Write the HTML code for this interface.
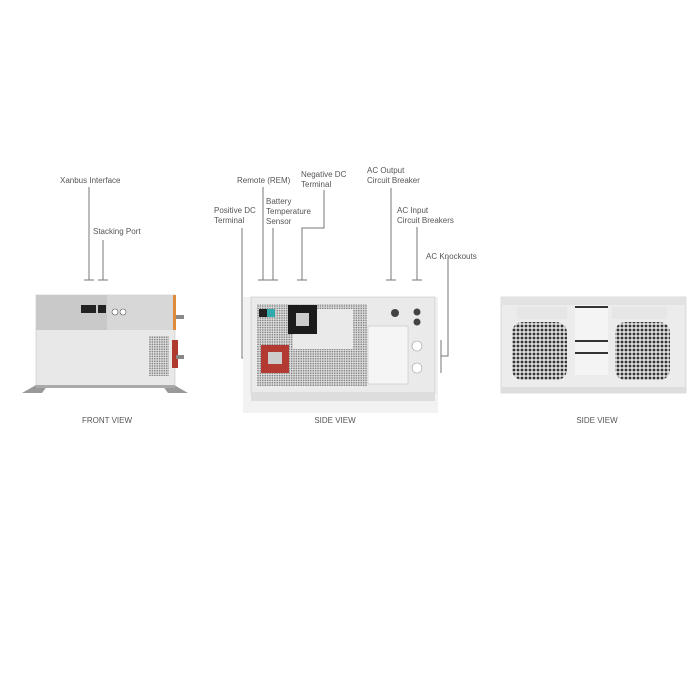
<!DOCTYPE html>
<html><head><meta charset="utf-8"><style>
html,body{margin:0;padding:0;background:#fff;}
svg{display:block;font-family:"Liberation Sans",sans-serif;}
text{font-size:8px;fill:#555;}
</style></head><body>
<svg width="700" height="700" viewBox="0 0 700 700">
<defs>
<pattern id="mesh" width="2.4" height="2.4" patternUnits="userSpaceOnUse"><rect width="2.4" height="2.4" fill="#e0e0e0"/><circle cx="1.2" cy="1.2" r="0.8" fill="#7d7d7d"/></pattern>
<pattern id="hex" width="4" height="4" patternUnits="userSpaceOnUse"><rect width="4" height="4" fill="#ddd"/><circle cx="2" cy="2" r="1.4" fill="#333"/></pattern>
</defs>
<g stroke="#777" stroke-width="1" fill="none">
<path d="M89 187V280M84 280H94"/>
<path d="M103 240V280M98 280H108"/>
<path d="M263 187V280M258 280H268"/>
<path d="M273 228V280M268 280H278"/>
<path d="M324 190V228H302V280M297 280H307"/>
<path d="M391 188V280M386 280H396"/>
<path d="M417 227V280M412 280H422"/>
<path d="M242 228V358H247M247 352V363"/>
<path d="M448 257V356H441M441 340V373"/>
</g>
<text x="60" y="183">Xanbus Interface</text>
<text x="93" y="234">Stacking Port</text>
<text x="237" y="183">Remote (REM)</text>
<text x="266" y="204">Battery</text>
<text x="266" y="214">Temperature</text>
<text x="266" y="224">Sensor</text>
<text x="214" y="213">Positive DC</text>
<text x="214" y="223">Terminal</text>
<text x="301" y="177">Negative DC</text>
<text x="301" y="187">Terminal</text>
<text x="367" y="173">AC Output</text>
<text x="367" y="183">Circuit Breaker</text>
<text x="397" y="213">AC Input</text>
<text x="397" y="223">Circuit Breakers</text>
<text x="426" y="259">AC Knockouts</text>
<text x="107" y="423" text-anchor="middle">FRONT VIEW</text>
<text x="335" y="423" text-anchor="middle">SIDE VIEW</text>
<text x="597" y="423" text-anchor="middle">SIDE VIEW</text>

<!-- front unit -->
<rect x="36" y="295" width="139" height="92" fill="#e8e8e8" stroke="#bbb" stroke-width="0.5"/>
<rect x="36" y="295" width="71" height="35" fill="#c9c9c9"/>
<rect x="107" y="295" width="68" height="35" fill="#d7d7d7"/>
<rect x="173" y="295" width="3" height="35" fill="#e08a3c"/>
<rect x="81" y="305" width="15" height="8" fill="#222"/>
<rect x="98" y="305" width="8" height="8" fill="#222"/>
<circle cx="115" cy="312" r="3" fill="#fff" stroke="#555" stroke-width="0.6"/>
<circle cx="123" cy="312" r="3" fill="#fff" stroke="#555" stroke-width="0.6"/>
<rect x="149" y="336" width="20" height="40" fill="url(#mesh)"/>
<rect x="172" y="340" width="6" height="28" fill="#b03a2e"/>
<rect x="176" y="315" width="8" height="4" fill="#888"/>
<rect x="176" y="355" width="8" height="4" fill="#888"/>
<path d="M22 393L36 385H48L42 393Z M188 393L174 385H162L168 393Z" fill="#999"/>
<rect x="36" y="385" width="139" height="3" fill="#aaa"/>

<!-- side unit -->
<rect x="243" y="297" width="195" height="116" fill="#f2f2f2"/>
<rect x="251" y="297" width="184" height="96" fill="#eaeaea" stroke="#bbb" stroke-width="0.5"/>
<rect x="257" y="304" width="110" height="82" fill="url(#mesh)"/>
<rect x="293" y="309" width="60" height="40" fill="#eaeaea"/>
<rect x="368" y="326" width="40" height="58" fill="#f5f5f5" stroke="#bbb" stroke-width="0.5"/>
<rect x="259" y="309" width="8" height="8" fill="#222"/>
<rect x="267" y="309" width="8" height="8" fill="#3aa"/>
<rect x="288" y="305" width="29" height="29" fill="#1c1c1c"/>
<rect x="296" y="313" width="13" height="13" fill="#ccc"/>
<rect x="261" y="345" width="28" height="28" fill="#b33a33"/>
<rect x="268" y="352" width="14" height="12" fill="#ccc"/>
<circle cx="395" cy="313" r="4" fill="#444"/>
<circle cx="417" cy="312" r="3.5" fill="#444"/>
<circle cx="417" cy="322" r="3.5" fill="#444"/>
<circle cx="417" cy="346" r="5" fill="#fff" stroke="#999" stroke-width="0.6"/>
<circle cx="417" cy="368" r="5" fill="#fff" stroke="#999" stroke-width="0.6"/>
<rect x="251" y="393" width="184" height="8" fill="#ddd"/>

<!-- back unit -->
<rect x="501" y="297" width="185" height="96" fill="#ececec" stroke="#bbb" stroke-width="0.5"/>
<rect x="501" y="297" width="185" height="8" fill="#e2e2e2"/>
<path d="M512 334 Q512 322 524 322 H555 Q567 322 567 334 V368 Q567 380 555 380 H524 Q512 380 512 368Z" fill="url(#hex)"/>
<path d="M615 334 Q615 322 627 322 H658 Q670 322 670 334 V368 Q670 380 658 380 H627 Q615 380 615 368Z" fill="url(#hex)"/>
<rect x="575" y="305" width="33" height="70" fill="#f4f4f4"/>
<rect x="575" y="306" width="33" height="2" fill="#333"/>
<rect x="575" y="340" width="33" height="2" fill="#333"/>
<rect x="575" y="352" width="33" height="2" fill="#333"/>
<rect x="517" y="307" width="50" height="12" fill="#e6e6e6"/>
<rect x="612" y="307" width="55" height="12" fill="#e6e6e6"/>
<rect x="501" y="387" width="185" height="6" fill="#ddd"/>
</svg>
</body></html>
